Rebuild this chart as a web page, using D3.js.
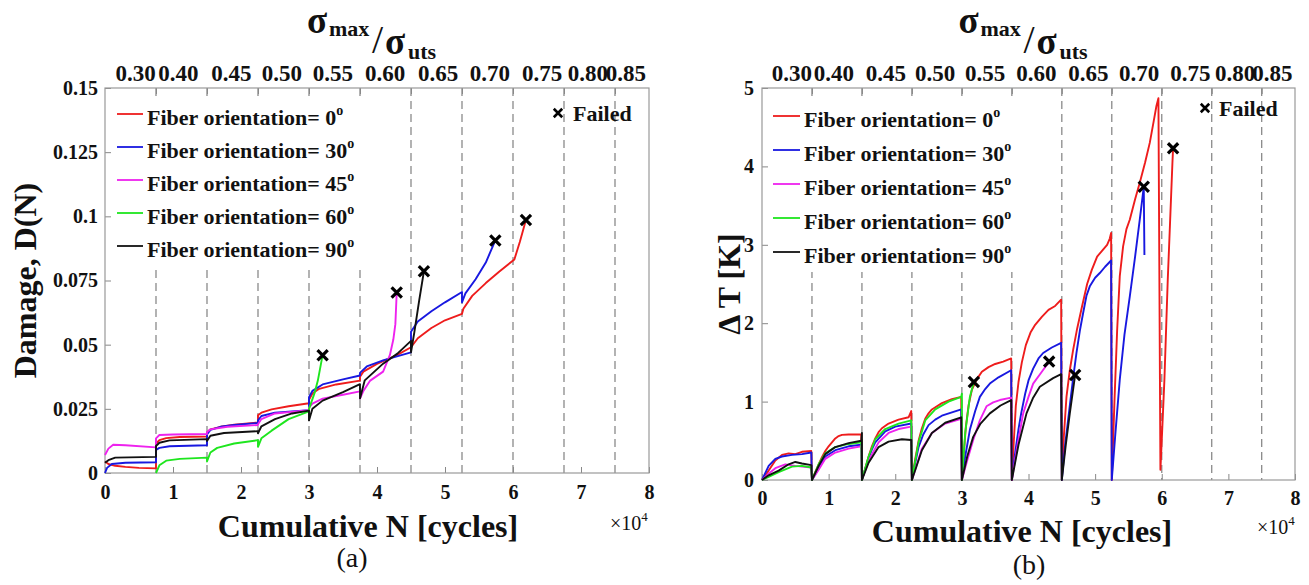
<!DOCTYPE html>
<html><head><meta charset="utf-8">
<script src="https://cdn.jsdelivr.net/npm/d3@7"></script>
<style>
body{margin:0;background:#fff}
svg{display:block}
text{font-family:"Liberation Serif","Times New Roman",serif;fill:#111}
</style>
</head><body>
<svg id="c" width="1309" height="585"></svg>
<script>
// ---------- data ----------
const cycleTicks = [0,1,2,3,4,5,6,7,8];               // ×10^4 cycles
const blockEdges = [0.75,1.5,2.25,3,3.75,4.5,5.25,6,6.75,7.5];
const stressLabels = ["0.30","0.40","0.45","0.50","0.55","0.60","0.65","0.70","0.75","0.80","0.85"];
const stressLabelAt = [0.45,1.08,1.86,2.6,3.35,4.12,4.9,5.66,6.43,7.1,7.66];
const damageTicks = [0,0.025,0.05,0.075,0.1,0.125,0.15];
const damageTickLabels = ["0","0.025","0.05","0.075","0.1","0.125","0.15"];
const tempTicks = [0,1,2,3,4,5];
const orientations = ["0","30","45","60","90"];

const damage0 = [[0,0.0045],[0.05,0.0035],[0.15,0.0028],[0.3,0.0024],[0.5,0.002],[0.75,0.0018],
 [0.75,0.0115],[0.8,0.0128],[0.9,0.0136],[1.1,0.014],[1.5,0.0142],
 [1.5,0.0158],[1.55,0.017],[1.7,0.018],[1.9,0.0188],[2.25,0.0197],
 [2.25,0.0225],[2.3,0.0235],[2.45,0.0248],[2.7,0.026],[3.0,0.0272],
 [3.0,0.0285],[3.05,0.031],[3.15,0.0328],[3.4,0.0345],[3.75,0.036],
 [3.75,0.0375],[3.8,0.0395],[4.0,0.0425],[4.3,0.046],[4.5,0.049],
 [4.6,0.0525],[4.8,0.0565],[5.0,0.0595],[5.25,0.062],
 [5.27,0.064],[5.4,0.069],[5.6,0.074],[5.8,0.0785],[6.02,0.0832],
 [6.1,0.09],[6.19,0.0986]];
const damage30 = [[0,0],[0.03,0.002],[0.1,0.0035],[0.3,0.004],[0.75,0.0042],
 [0.75,0.009],[0.8,0.0098],[0.95,0.0104],[1.5,0.0108],
 [1.5,0.015],[1.55,0.0168],[1.7,0.018],[1.9,0.0187],[2.25,0.0195],
 [2.25,0.0205],[2.3,0.0222],[2.5,0.0235],[3.0,0.0245],
 [3.0,0.0295],[3.05,0.032],[3.2,0.0345],[3.5,0.0365],[3.75,0.038],
 [3.75,0.039],[3.85,0.0415],[4.1,0.044],[4.5,0.047],
 [4.5,0.055],[4.6,0.059],[4.8,0.063],[5.0,0.0665],[5.25,0.0705],
 [5.25,0.0665],[5.3,0.07],[5.45,0.0755],[5.6,0.082],[5.74,0.0906]];
const damage45 = [[0,0.007],[0.05,0.0095],[0.12,0.011],[0.3,0.0108],[0.75,0.0100],
 [0.75,0.0135],[0.8,0.0148],[1.0,0.015],[1.5,0.0152],
 [1.5,0.016],[1.55,0.017],[1.8,0.018],[2.25,0.0187],
 [2.25,0.019],[2.3,0.021],[2.5,0.0232],[3.0,0.0245],
 [3.0,0.0255],[3.05,0.027],[3.2,0.029],[3.5,0.0305],[3.75,0.0318],
 [3.75,0.029],[3.8,0.032],[3.9,0.036],[4.09,0.0395],[4.19,0.046],[4.24,0.052],[4.27,0.058],[4.29,0.0703]];
const damage60 = [[0.75,0],[0.8,0.003],[0.9,0.0048],[1.1,0.0055],[1.5,0.006],
 [1.5,0.0045],[1.55,0.008],[1.65,0.0098],[1.9,0.0115],[2.25,0.0128],
 [2.25,0.0102],[2.3,0.0135],[2.45,0.0165],[2.7,0.021],[3.0,0.024],
 [3.0,0.025],[3.08,0.031],[3.13,0.036],[3.2,0.0459]];
const damage90 = [[0,0.004],[0.05,0.005],[0.15,0.006],[0.75,0.0063],
 [0.75,0.0105],[0.8,0.0118],[0.95,0.0127],[1.5,0.0132],
 [1.5,0.0125],[1.55,0.0145],[1.75,0.0156],[2.25,0.0163],
 [2.25,0.0155],[2.3,0.0182],[2.5,0.021],[2.75,0.0232],[3.0,0.0243],
 [3.0,0.0205],[3.05,0.025],[3.2,0.0282],[3.5,0.0315],[3.75,0.0346],
 [3.75,0.029],[3.82,0.0361],[4.09,0.0426],[4.3,0.0465],[4.5,0.0515],
 [4.5,0.047],[4.55,0.055],[4.62,0.0672],[4.69,0.0786]];
const damageFailed = [[6.19,0.0986],[5.74,0.0906],[4.29,0.0703],[3.2,0.0459],[4.69,0.0786]];

const temp0 = [[0,0],[0.1,0.12],[0.2,0.25],[0.3,0.32],[0.4,0.34],[0.5,0.33],[0.6,0.36],[0.74,0.37],
 [0.75,0],[0.8,0.1],[0.85,0.2],[0.9,0.29],[0.95,0.37],[1.0,0.43],[1.05,0.48],[1.1,0.53],[1.15,0.56],[1.2,0.575],[1.3,0.58],[1.49,0.58],
 [1.5,0],[1.55,0.15],[1.6,0.3],[1.65,0.43],[1.7,0.53],[1.75,0.61],[1.8,0.66],[1.9,0.72],[2.05,0.77],[2.2,0.8],[2.24,0.88],
 [2.25,0],[2.3,0.27],[2.35,0.5],[2.4,0.66],[2.45,0.78],[2.5,0.85],[2.55,0.9],[2.7,0.98],[2.85,1.03],[2.99,1.06],
 [3.0,0],[3.03,0.35],[3.06,0.68],[3.1,0.95],[3.15,1.15],[3.22,1.28],[3.3,1.38],[3.4,1.44],[3.5,1.48],[3.62,1.51],[3.74,1.55],
 [3.75,0],[3.78,0.5],[3.81,0.95],[3.85,1.25],[3.9,1.5],[3.96,1.72],[4.03,1.88],[4.1,1.98],[4.2,2.08],[4.3,2.17],[4.4,2.22],[4.49,2.3],
 [4.5,0],[4.53,0.55],[4.57,1.06],[4.62,1.4],[4.67,1.66],[4.73,1.93],[4.8,2.2],[4.88,2.5],[4.95,2.68],[5.03,2.85],[5.1,2.92],[5.18,3.0],[5.22,3.08],[5.24,3.15],
 [5.25,0],[5.29,1.0],[5.33,1.9],[5.37,2.6],[5.42,2.98],[5.47,3.2],[5.52,3.32],[5.6,3.58],[5.67,3.79],[5.75,4.05],[5.82,4.3],[5.88,4.58],[5.92,4.77],[5.95,4.87],[5.98,0.13],
 [6.01,0.7],[6.04,1.28],[6.09,2.55],[6.13,3.4],[6.16,4.04],[6.17,4.23]];
const temp30 = [[0,0],[0.1,0.18],[0.2,0.27],[0.3,0.3],[0.45,0.32],[0.6,0.33],[0.74,0.35],
 [0.75,0],[0.85,0.15],[0.95,0.3],[1.1,0.38],[1.3,0.43],[1.49,0.45],
 [1.5,0],[1.55,0.14],[1.6,0.28],[1.65,0.39],[1.7,0.48],[1.85,0.62],[2.0,0.68],[2.24,0.72],
 [2.25,0],[2.3,0.22],[2.35,0.42],[2.42,0.58],[2.5,0.7],[2.6,0.77],[2.7,0.82],[2.99,0.9],
 [3.0,0],[3.05,0.3],[3.12,0.64],[3.2,0.88],[3.27,1.06],[3.35,1.16],[3.42,1.23],[3.55,1.31],[3.74,1.4],
 [3.75,0],[3.8,0.35],[3.85,0.65],[3.89,0.85],[3.95,1.1],[4.0,1.27],[4.07,1.42],[4.15,1.55],[4.22,1.62],[4.35,1.69],[4.49,1.75],
 [4.5,0],[4.55,0.45],[4.62,0.95],[4.67,1.3],[4.72,1.62],[4.77,1.9],[4.82,2.13],[4.87,2.35],[4.92,2.47],[5.0,2.58],[5.07,2.64],[5.15,2.72],[5.24,2.8],
 [5.25,0],[5.3,0.55],[5.37,1.28],[5.44,1.85],[5.52,2.34],[5.6,2.85],[5.67,3.32],[5.71,3.6],[5.73,3.74],[5.74,2.87]];
const temp45 = [[0,0],[0.1,0.08],[0.2,0.15],[0.35,0.2],[0.5,0.18],[0.74,0.16],
 [0.75,0],[0.85,0.13],[0.95,0.27],[1.1,0.35],[1.3,0.4],[1.49,0.43],
 [1.5,0],[1.6,0.25],[1.75,0.48],[1.9,0.6],[2.05,0.65],[2.24,0.68],
 [2.25,0],[2.4,0.4],[2.55,0.6],[2.75,0.72],[2.99,0.78],
 [3.0,0],[3.08,0.25],[3.17,0.51],[3.27,0.76],[3.37,0.94],[3.47,0.99],[3.57,1.02],[3.74,1.05],
 [3.75,0],[3.83,0.42],[3.92,0.85],[4.0,1.06],[4.07,1.23],[4.2,1.38],[4.31,1.51]];
const temp60 = [[0,0],[0.1,0.04],[0.25,0.1],[0.45,0.17],[0.6,0.18],[0.74,0.16],
 [0.75,0],[0.85,0.2],[0.95,0.34],[1.1,0.42],[1.3,0.46],[1.49,0.48],
 [1.5,0],[1.6,0.3],[1.7,0.52],[1.85,0.65],[2.05,0.72],[2.24,0.76],
 [2.25,0],[2.35,0.48],[2.45,0.76],[2.6,0.9],[2.8,1.0],[2.99,1.06],[3.0,1.1],
 [3.0,0],[3.05,0.6],[3.12,1.06],[3.18,1.25]];
const temp90 = [[0,0],[0.1,0.06],[0.25,0.12],[0.4,0.2],[0.5,0.23],[0.6,0.21],[0.74,0.19],
 [0.75,0],[0.85,0.18],[0.95,0.33],[1.1,0.42],[1.3,0.47],[1.49,0.5],[1.5,0.6],
 [1.5,0],[1.6,0.22],[1.75,0.42],[1.9,0.49],[2.1,0.52],[2.24,0.51],
 [2.25,0],[2.4,0.38],[2.55,0.6],[2.75,0.73],[2.99,0.8],
 [3.0,0],[3.08,0.3],[3.17,0.55],[3.28,0.72],[3.42,0.85],[3.58,0.95],[3.74,1.02],
 [3.75,0],[3.85,0.45],[3.97,0.85],[4.07,1.05],[4.17,1.19],[4.37,1.3],[4.49,1.35],
 [4.5,0],[4.56,0.45],[4.62,0.85],[4.7,1.34]];
const tempFailed = [[6.17,4.23],[5.73,3.74],[4.31,1.51],[3.18,1.25],[4.70,1.34]];

// ---------- styling / layout ----------
const colors = ["#ee1c1c","#1818e0","#ee22ee","#1ee61e","#111111"];
const svg = d3.select("#c");

const panels = [
  {x0:105,x1:649,y0:88,y1:473,yDomain:[0,0.15],yTicks:damageTicks,yFmt:(d,i)=>damageTickLabels[i],
   series:[damage0,damage30,damage45,damage60,damage90],failed:damageFailed,
   ylabel:"Damage, D(N)",ylabX:36,xlabCx:368,xlabY:537,xtickPad:12,ytickPad:7,
   tag:"(a)",tagX:352,tagY:567,
   legBox:[108,96,266,172],legLineX:[117,143],legTextX:147,legBase:125,legStep:33,
   failX:558,failY:113,failTextX:573,failBase:121,x10X:610,x10Y:530},
  {x0:762,x1:1295,y0:88,y1:480,yDomain:[0,5],yTicks:tempTicks,yFmt:d=>String(d),
   series:[temp0,temp30,temp45,temp60,temp90],failed:tempFailed,
   ylabel:"Δ T [K]",ylabX:740,xlabCx:1022,xlabY:542,xtickPad:11,ytickPad:8,
   tag:"(b)",tagX:1029,tagY:574,
   legBox:[765,96,268,176],legLineX:[773,800],legTextX:804,legBase:127,legStep:34,
   failX:1205,failY:108,failTextX:1219,failBase:116,x10X:1257,x10Y:534}
];

panels.forEach(p => {
  const g = svg.append("g");
  const x = d3.scaleLinear().domain([0,8]).range([p.x0,p.x1]);
  const y = d3.scaleLinear().domain(p.yDomain).range([p.y1,p.y0]);

  // dashed block boundaries
  g.selectAll("line.blk").data(blockEdges).join("line")
    .attr("x1",d=>x(d)).attr("x2",d=>x(d)).attr("y1",p.y0).attr("y2",p.y1)
    .attr("stroke","#8a8a8a").attr("stroke-width",1.3).attr("stroke-dasharray","8,5");

  // legend background (opaque, no border)
  g.append("rect").attr("x",p.legBox[0]).attr("y",p.legBox[1])
    .attr("width",p.legBox[2]).attr("height",p.legBox[3]).attr("fill","#fff");

  // axes
  const axB = g.append("g").attr("transform",`translate(0,${p.y1})`)
    .call(d3.axisBottom(x).tickValues(cycleTicks).tickFormat(d3.format("d"))
      .tickSizeInner(-6).tickSizeOuter(0).tickPadding(p.xtickPad));
  const axL = g.append("g").attr("transform",`translate(${p.x0},0)`)
    .call(d3.axisLeft(y).tickValues(p.yTicks).tickFormat(p.yFmt)
      .tickSizeInner(-6).tickSizeOuter(0).tickPadding(p.ytickPad));
  const axT = g.append("g").attr("transform",`translate(0,${p.y0})`)
    .call(d3.axisTop(x).tickValues(blockEdges).tickFormat("")
      .tickSizeInner(-6).tickSizeOuter(0));
  [axB,axL,axT].forEach(a=>{
    a.select(".domain").remove();
    a.selectAll("line").attr("stroke","#888");
    a.selectAll("text").attr("font-family","Liberation Serif").attr("font-weight","bold")
      .attr("font-size",20).attr("fill","#111");
  });
  // box
  g.append("rect").attr("x",p.x0).attr("y",p.y0).attr("width",p.x1-p.x0).attr("height",p.y1-p.y0)
    .attr("fill","none").attr("stroke","#999").attr("stroke-width",1.2);

  // top stress labels
  g.selectAll("text.st").data(stressLabels).join("text")
    .attr("x",(d,i)=>x(stressLabelAt[i])).attr("y",p.y0-7)
    .attr("text-anchor","middle").attr("font-weight","bold").attr("font-size",23).text(d=>d);

  // series
  const line = d3.line().x(d=>x(d[0])).y(d=>y(d[1]));
  p.series.forEach((s,i)=>{
    g.append("path").datum(s).attr("d",line).attr("fill","none")
      .attr("stroke",colors[i]).attr("stroke-width",1.9).attr("stroke-linejoin","round");
  });
  // failed markers
  const sym = d3.symbol(d3.symbolX).size(70);
  g.selectAll("path.f").data(p.failed).join("path")
    .attr("d",sym).attr("transform",d=>`translate(${x(d[0])},${y(d[1])})`)
    .attr("fill","none").attr("stroke","#000").attr("stroke-width",3.2);

  // legend entries
  orientations.forEach((o,i)=>{
    const by = p.legBase + i*p.legStep;
    g.append("line").attr("x1",p.legLineX[0]).attr("x2",p.legLineX[1])
      .attr("y1",by-11).attr("y2",by-11).attr("stroke",colors[i]).attr("stroke-width",1.8);
    const t = g.append("text").attr("x",p.legTextX).attr("y",by)
      .attr("font-weight","bold").attr("font-size",22);
    t.append("tspan").text("Fiber orientation= "+o);
    t.append("tspan").attr("dy",-10).attr("font-size",14).text("o");
  });
  g.append("path").attr("d",d3.symbol(d3.symbolX).size(48)())
    .attr("transform",`translate(${p.failX},${p.failY})`).attr("fill","none")
    .attr("stroke","#000").attr("stroke-width",2.6);
  g.append("text").attr("x",p.failTextX).attr("y",p.failBase)
    .attr("font-weight","bold").attr("font-size",22).text("Failed");

  // top title sigma_max / sigma_uts
  const cx = (p.x0+p.x1)/2 - 5;
  const tt = g.append("g").attr("font-weight","bold");
  tt.append("text").attr("x",cx-65).attr("y",33).attr("font-size",37).text("σ");
  tt.append("text").attr("x",cx-43).attr("y",36).attr("font-size",22).text("max");
  tt.append("text").attr("x",cx).attr("y",53).attr("font-size",40).attr("font-weight","normal").text("/");
  tt.append("text").attr("x",cx+13).attr("y",54).attr("font-size",37).text("σ");
  tt.append("text").attr("x",cx+36).attr("y",59).attr("font-size",22).text("uts");

  // axis titles
  g.append("text").attr("x",p.xlabCx).attr("y",p.xlabY).attr("text-anchor","middle")
    .attr("font-weight","bold").attr("font-size",32).text("Cumulative N [cycles]");
  g.append("text").attr("transform",`translate(${p.ylabX},${(p.y0+p.y1)/2}) rotate(-90)`)
    .attr("text-anchor","middle").attr("font-weight","bold").attr("font-size",32).text(p.ylabel);
  const xt = g.append("text").attr("x",p.x10X).attr("y",p.x10Y).attr("font-size",20);
  xt.append("tspan").text("×10");
  xt.append("tspan").attr("dy",-9).attr("font-size",13).text("4");
  g.append("text").attr("x",p.tagX).attr("y",p.tagY).attr("text-anchor","middle")
    .attr("font-size",28).text(p.tag);
});
</script>
</body></html>
